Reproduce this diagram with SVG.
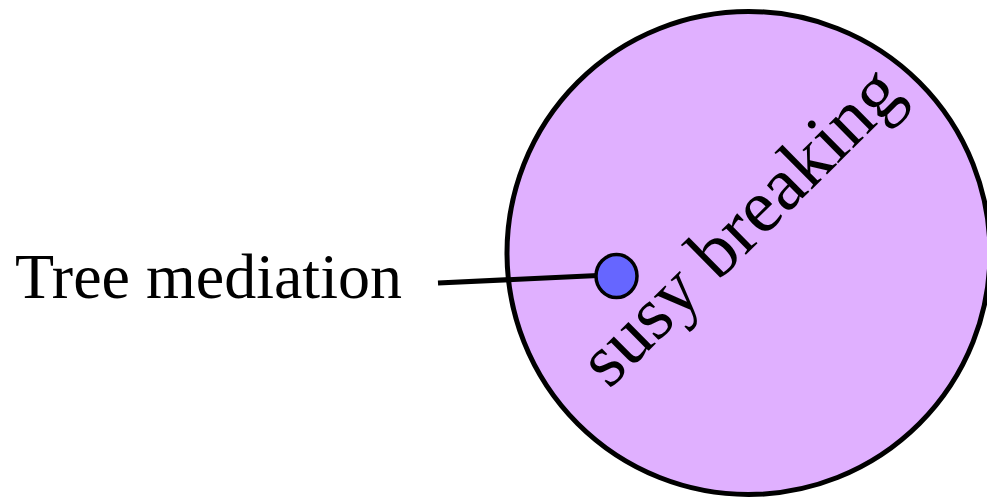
<svg xmlns="http://www.w3.org/2000/svg" width="987" height="499" viewBox="0 0 987 499">
<style>
text{font-family:"Liberation Serif","Times New Roman",serif;fill:#000}
.outline{stroke:#000}
</style>
<rect width="987" height="499" fill="#fff"/>
<g id="susy-breaking">
<circle class="outline" cx="748.5" cy="253" r="241.5" fill="#E0B0FF" stroke-width="5"/>
<text transform="translate(609,390) rotate(-44.7)" font-size="75.5">susy breaking</text>
</g>
<g id="connectors">
<line x1="438" y1="283" x2="598" y2="275.5" stroke="#000" stroke-width="5"/>
</g>
<g id="tree-mediation">
<ellipse class="outline" cx="616.5" cy="276" rx="20.5" ry="21.5" fill="#6666FF" stroke-width="3.5"/>
<text x="15" y="298" font-size="64">Tree mediation</text>
</g>
</svg>
